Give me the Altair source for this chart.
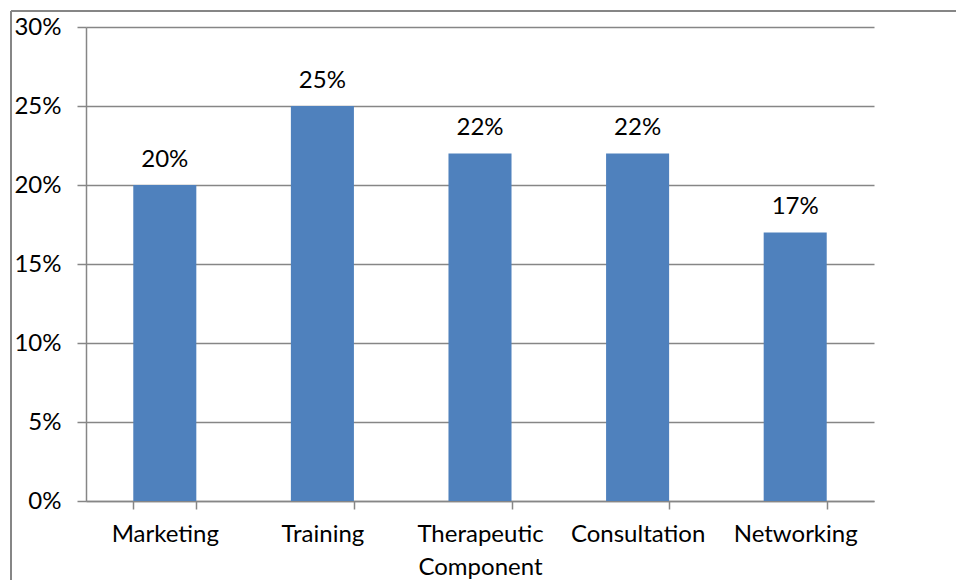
import altair as alt
import pandas as pd

categories = ["Marketing", "Training", "Therapeutic Component", "Consultation", "Networking"]
values = [0.20, 0.25, 0.22, 0.22, 0.17]
y_ticks = [0, 0.05, 0.10, 0.15, 0.20, 0.25, 0.30]

df = pd.DataFrame({"category": categories, "value": values})

FONT = "Lato"
GRAY = "#868686"
BLUE = "#4F81BD"
FS = 24

x_enc = alt.X(
    "category:N",
    sort=categories,
    title=None,
    scale=alt.Scale(paddingInner=0.6, paddingOuter=0.3),
    axis=alt.Axis(
        labelAngle=0,
        tickBand="extent",
        tickSize=8,
        tickColor=GRAY,
        tickWidth=1.5,
        domainColor=GRAY,
        domainWidth=1.5,
        labelPadding=13,
        labelFont=FONT,
        labelFontSize=FS,
        labelColor="#000000",
        labelLineHeight=33,
        labelBaseline="top",
        labelExpr="length(datum.label) > 12 ? split(datum.label, ' ') : datum.label",
        grid=False,
    ),
)

y_enc = alt.Y(
    "value:Q",
    title=None,
    scale=alt.Scale(domain=[0, 0.30], nice=False),
    axis=alt.Axis(
        values=y_ticks,
        format=".0%",
        tickSize=9,
        tickColor=GRAY,
        tickWidth=1.5,
        domainColor=GRAY,
        domainWidth=1.5,
        gridColor=GRAY,
        gridWidth=1.5,
        labelPadding=16,
        labelFont=FONT,
        labelFontSize=FS,
        labelColor="#000000",
    ),
)

bars = alt.Chart(df).mark_bar(color=BLUE).encode(x=x_enc, y=y_enc)

labels = alt.Chart(df).mark_text(
    font=FONT, fontSize=FS, color="#000000", baseline="alphabetic", dy=-18
).encode(
    x=alt.X("category:N", sort=categories),
    y="value:Q",
    text=alt.Text("value:Q", format=".0%"),
)

frame_v = alt.Chart(df).mark_rule(color=GRAY, strokeWidth=2, clip=False).encode(
    x=alt.value(-75), y=alt.value(-16), y2=alt.value(620)
)
frame_h = alt.Chart(df).mark_rule(color=GRAY, strokeWidth=2, clip=False).encode(
    x=alt.value(-75), x2=alt.value(950), y=alt.value(-16)
)

chart = alt.layer(frame_v, frame_h, bars, labels).properties(
    width=788,
    height=474,
    autosize=alt.AutoSizeParams(type="none"),
    padding={"left": 86, "top": 27, "right": 82, "bottom": 79},
    background="white",
).configure_view(stroke=None)

chart.save("out.html", embed_options={"renderer": "svg", "actions": False})
